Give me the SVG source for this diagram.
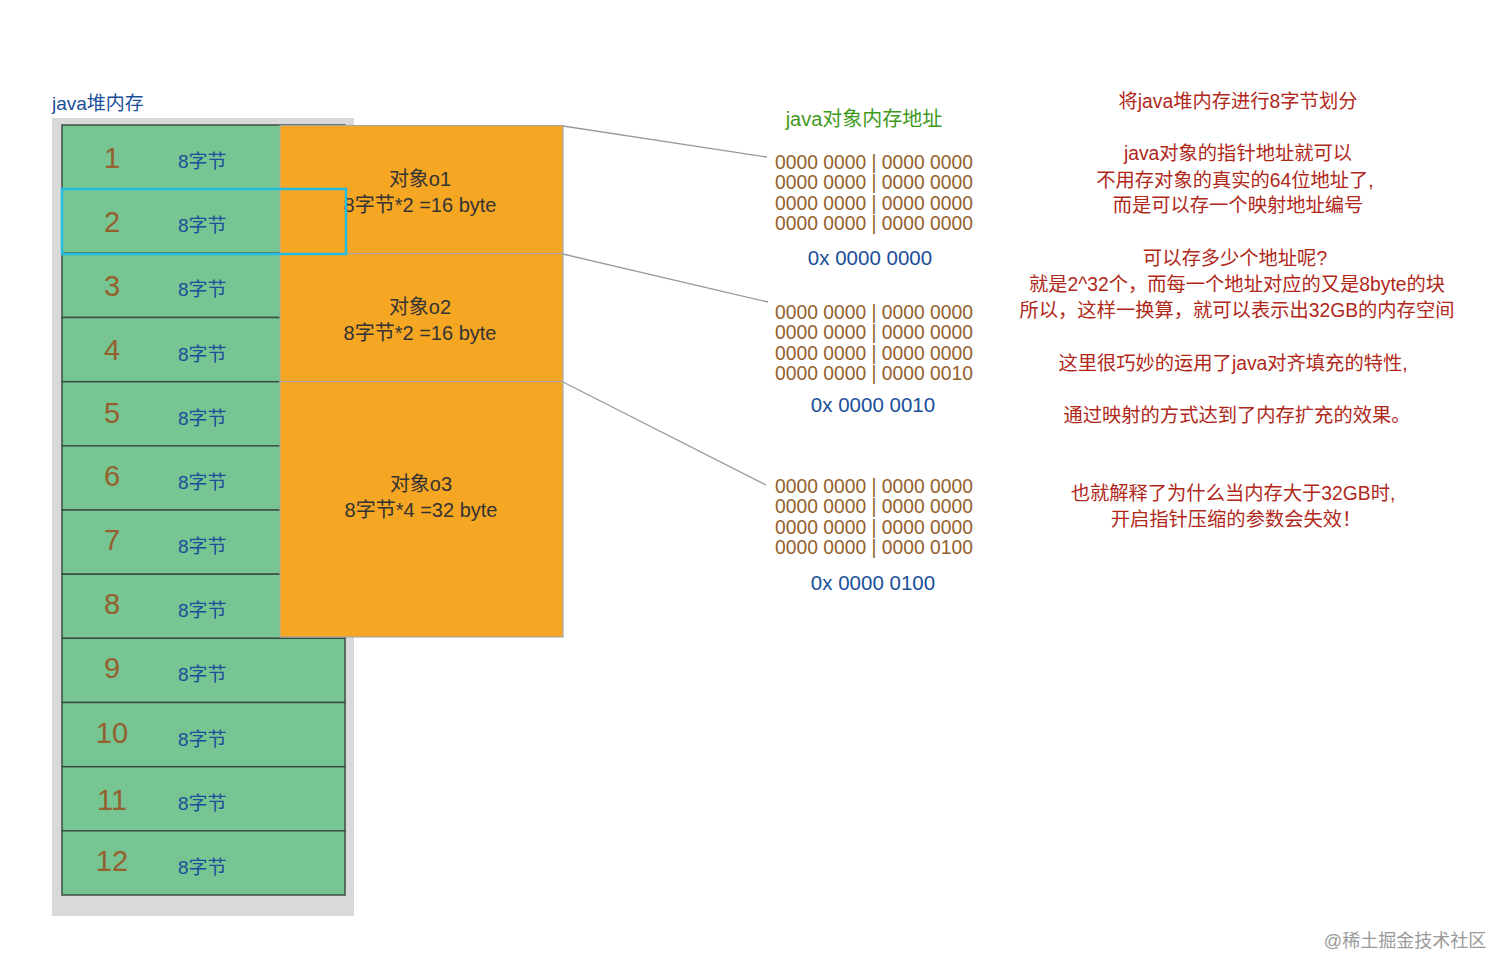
<svg xmlns="http://www.w3.org/2000/svg" width="1512" height="977" viewBox="0 0 1512 977">
<style>
text { font-family: "Liberation Sans", "Noto Sans CJK SC", sans-serif; }
.row { fill: #76c593; stroke: #3d4f42; stroke-width: 1.5; }
.num { font-size: 29px; fill: #94612e; text-anchor: middle; }
.byte { font-size: 19px; fill: #1a4f9a; }
.obj { fill: #f5a623; stroke: #a8a8a8; stroke-width: 1.2; }
.objt { font-size: 20px; fill: #333; text-anchor: middle; }
.bin { font-size: 19.3px; fill: #94612e; }
.hex { font-size: 20.5px; fill: #1a4f9a; text-anchor: middle; }
.note { font-size: 19.3px; fill: #b0281a; text-anchor: middle; }
.conn { stroke: #9a9a9a; stroke-width: 1.3; fill: none; }
</style>
<rect width="1512" height="977" fill="#ffffff"/>
<g id="heap">
<text x="52" y="110" style="font-size:19px;fill:#1a4f9a">java堆内存</text>
<rect x="52" y="118" width="302" height="798" fill="#d9d9d9"/>
</g>
<g id="rows">
<g id="row1"><rect class="row" x="62" y="125" width="283" height="64.2"/><text class="num" x="112" y="168">1</text><text class="byte" x="178" y="168">8字节</text></g>
<g id="row2"><rect class="row" x="62" y="189.2" width="283" height="64.2"/><text class="num" x="112" y="231.7">2</text><text class="byte" x="178" y="232.2">8字节</text></g>
<g id="row3"><rect class="row" x="62" y="253.3" width="283" height="64.2"/><text class="num" x="112" y="295.8">3</text><text class="byte" x="178" y="296.3">8字节</text></g>
<g id="row4"><rect class="row" x="62" y="317.5" width="283" height="64.2"/><text class="num" x="112" y="359.5">4</text><text class="byte" x="178" y="360.5">8字节</text></g>
<g id="row5"><rect class="row" x="62" y="381.7" width="283" height="64.2"/><text class="num" x="112" y="423.2">5</text><text class="byte" x="178" y="424.7">8字节</text></g>
<g id="row6"><rect class="row" x="62" y="445.8" width="283" height="64.2"/><text class="num" x="112" y="486.3">6</text><text class="byte" x="178" y="488.8">8字节</text></g>
<g id="row7"><rect class="row" x="62" y="510" width="283" height="64.2"/><text class="num" x="112" y="549.5">7</text><text class="byte" x="178" y="553">8字节</text></g>
<g id="row8"><rect class="row" x="62" y="574.2" width="283" height="64.2"/><text class="num" x="112" y="614.2">8</text><text class="byte" x="178" y="617.2">8字节</text></g>
<g id="row9"><rect class="row" x="62" y="638.3" width="283" height="64.2"/><text class="num" x="112" y="678.3">9</text><text class="byte" x="178" y="681.3">8字节</text></g>
<g id="row10"><rect class="row" x="62" y="702.5" width="283" height="64.2"/><text class="num" x="112" y="742.5">10</text><text class="byte" x="178" y="745.5">8字节</text></g>
<g id="row11"><rect class="row" x="62" y="766.7" width="283" height="64.2"/><text class="num" x="112" y="810.2">11</text><text class="byte" x="178" y="809.7">8字节</text></g>
<g id="row12"><rect class="row" x="62" y="830.8" width="283" height="64.2"/><text class="num" x="112" y="871.3">12</text><text class="byte" x="178" y="873.8">8字节</text></g>
</g>
<g id="o1"><rect class="obj" x="280" y="125.5" width="283" height="128"/><text class="objt" x="420" y="185.5">对象o1</text><text class="objt" x="420" y="211.5">8字节*2 =16 byte</text></g>
<g id="o2"><rect class="obj" x="280" y="253.5" width="283" height="128"/><text class="objt" x="420" y="313.5">对象o2</text><text class="objt" x="420" y="339.5">8字节*2 =16 byte</text></g>
<g id="o3"><rect class="obj" x="280" y="381.5" width="283" height="255.5"/><text class="objt" x="421" y="490.5">对象o3</text><text class="objt" x="421" y="516.5">8字节*4 =32 byte</text></g>
<g id="highlight"><rect x="62" y="189" width="284" height="65" fill="none" stroke="#24bde0" stroke-width="2.5"/></g>
<g id="connectors">
<line class="conn" x1="563" y1="126" x2="767" y2="157"/>
<line class="conn" x1="563" y1="254" x2="768" y2="302"/>
<line class="conn" x1="563" y1="382" x2="766" y2="485"/>
</g>
<g id="addrTitle"><text x="864" y="125.5" style="font-size:20px;fill:#3f9a1c;text-anchor:middle">java对象内存地址</text></g>
<g id="addr1">
<text class="bin" x="775" y="169">0000 0000 | 0000 0000</text>
<text class="bin" x="775" y="189.4">0000 0000 | 0000 0000</text>
<text class="bin" x="775" y="209.8">0000 0000 | 0000 0000</text>
<text class="bin" x="775" y="230.2">0000 0000 | 0000 0000</text>
<text class="hex" x="870" y="265.3">0x 0000 0000</text>
</g>
<g id="addr2">
<text class="bin" x="775" y="319">0000 0000 | 0000 0000</text>
<text class="bin" x="775" y="339.4">0000 0000 | 0000 0000</text>
<text class="bin" x="775" y="359.8">0000 0000 | 0000 0000</text>
<text class="bin" x="775" y="380.2">0000 0000 | 0000 0010</text>
<text class="hex" x="873" y="411.5">0x 0000 0010</text>
</g>
<g id="addr3">
<text class="bin" x="775" y="493">0000 0000 | 0000 0000</text>
<text class="bin" x="775" y="513.4">0000 0000 | 0000 0000</text>
<text class="bin" x="775" y="533.8">0000 0000 | 0000 0000</text>
<text class="bin" x="775" y="554.2">0000 0000 | 0000 0100</text>
<text class="hex" x="873" y="589.5">0x 0000 0100</text>
</g>
<g id="notes">
<text class="note" x="1238" y="107.5">将java堆内存进行8字节划分</text>
<text class="note" x="1238" y="159.5">java对象的指针地址就可以</text>
<text class="note" x="1235" y="186.5">不用存对象的真实的64位地址了,</text>
<text class="note" x="1238" y="211.5">而是可以存一个映射地址编号</text>
<text class="note" x="1235" y="264.5">可以存多少个地址呢?</text>
<text class="note" x="1237" y="290.5">就是2^32个，而每一个地址对应的又是8byte的块</text>
<text class="note" x="1237" y="316.5">所以，这样一换算，就可以表示出32GB的内存空间</text>
<text class="note" x="1233" y="369.5">这里很巧妙的运用了java对齐填充的特性,</text>
<text class="note" x="1237" y="421.5">通过映射的方式达到了内存扩充的效果。</text>
<text class="note" x="1233" y="499.5">也就解释了为什么当内存大于32GB时,</text>
<text class="note" x="1236" y="525.5">开启指针压缩的参数会失效！</text>
</g>
<g id="watermark"><text x="1405" y="947" style="font-size:18px;fill:#9a9a9a;text-anchor:middle">@稀土掘金技术社区</text></g>
</svg>
